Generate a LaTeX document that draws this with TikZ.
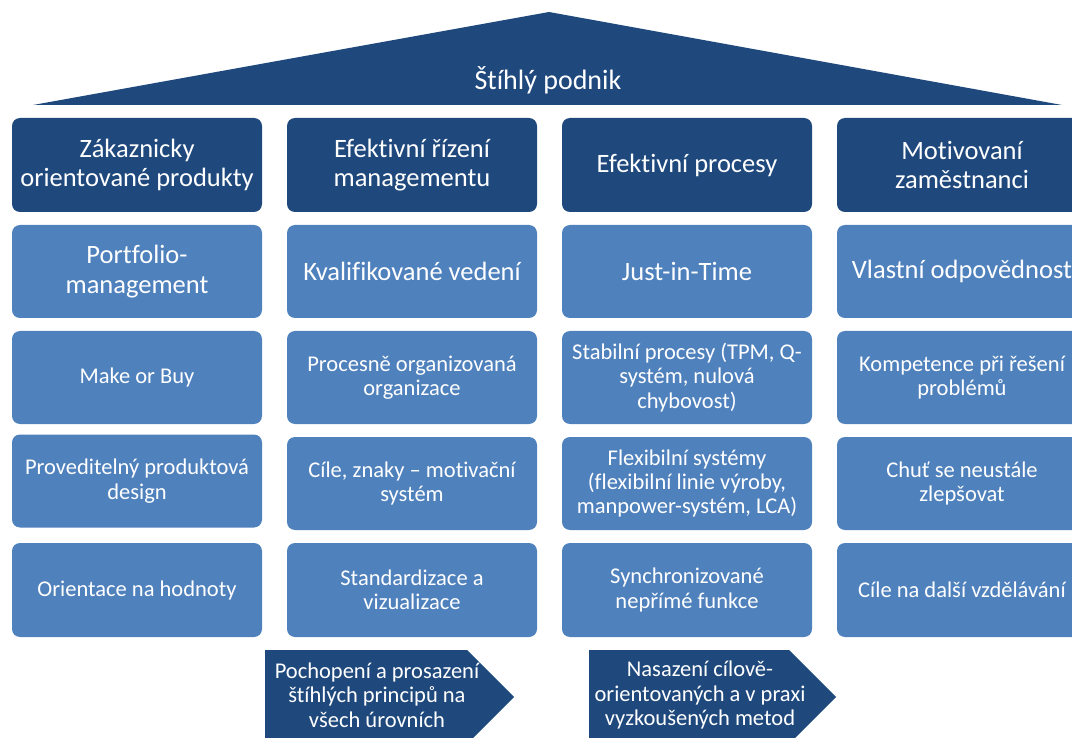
\documentclass[tikz,border=0pt]{standalone}
\usepackage{fontspec}
\setmainfont[RawFeature={-liga;-clig;-dlig;-calt;-hlig}]{Carlito}
\definecolor{darkblue}{RGB}{31,73,125}
\definecolor{lightblue}{RGB}{79,129,189}
\tikzset{
  boxbase/.style={rounded corners=8pt, minimum width=250pt, text=white, align=center, inner sep=0pt},
  hdr/.style={boxbase, fill=darkblue, minimum height=94pt, font=\fontsize{26.5}{29}\selectfont},
  bigbox/.style={boxbase, fill=lightblue, minimum height=93pt, font=\fontsize{26.5}{30}\selectfont},
  smallbox/.style={boxbase, fill=lightblue, minimum height=93pt, font=\fontsize{22.5}{24.5}\selectfont},
  arrowtext/.style={text=white, align=center, inner sep=0pt, font=\fontsize{22.5}{24.5}\selectfont},
  rooftext/.style={text=white, inner sep=0pt, font=\fontsize{28}{30}\selectfont}
}
\begin{document}
\begin{tikzpicture}[x=1pt,y=-1pt]
\clip (0,0) rectangle (1072,738);
\fill[white] (0,0) rectangle (1072,738);
% roof
\fill[darkblue] (33,105) -- (549,12) -- (1062,105) -- cycle;
\node[rooftext] (title) at (548,80) {Štíhlý podnik};
% row 1
\node[hdr] (h1) at (137,165) {Zákaznicky\\orientované produkty};
\node[hdr] (h2) at (412,165) {Efektivní řízení\\managementu};
\node[hdr] (h3) at (687,165) {Efektivní procesy};
\node[hdr] (h4) at (962,165) {Motivovaní\\zaměstnanci};
% row 2
\node[bigbox] (a1) at (137,271.5) {Portfolio-\\management};
\node[bigbox] (a2) at (412,271.5) {Kvalifikované vedení};
\node[bigbox] (a3) at (687,271.5) {Just-in-Time};
\node[bigbox] (a4) at (962,271.5) {Vlastní odpovědnost};
% row 3
\node[smallbox] (b1) at (137,377.5) {Make or Buy};
\node[smallbox] (b2) at (412,377.5) {Procesně organizovaná\\organizace};
\node[smallbox] (b3) at (687,377.5) {Stabilní procesy (TPM, Q-\\systém, nulová\\chybovost)};
\node[smallbox] (b4) at (962,377.5) {Kompetence při řešení\\problémů};
% row 4
\node[smallbox] (c1) at (137,481) {Proveditelný produktová\\design};
\node[smallbox] (c2) at (412,483.5) {Cíle, znaky – motivační\\systém};
\node[smallbox] (c3) at (687,483.5) {Flexibilní systémy\\(flexibilní linie výroby,\\manpower-systém, LCA)};
\node[smallbox] (c4) at (962,483.5) {Chuť se neustále\\zlepšovat};
% row 5
\node[smallbox, minimum height=94pt] (d1) at (137,590) {Orientace na hodnoty};
\node[smallbox, minimum height=94pt] (d2) at (412,590) {Standardizace a\\vizualizace};
\node[smallbox, minimum height=94pt] (d3) at (687,590) {Synchronizované\\nepřímé funkce};
\node[smallbox, minimum height=94pt] (d4) at (962,590) {Cíle na další vzdělávání};
% bottom arrows
\fill[darkblue] (265,650) -- (467,650) -- (514,697) -- (467,744) -- (265,744) -- cycle;
\node[arrowtext] (p1) at (377,695) {Pochopení a prosazení\\štíhlých principů na\\všech úrovních};
\fill[darkblue] (589,650) -- (789,650) -- (836,697) -- (789,744) -- (589,744) -- cycle;
\node[arrowtext] (p2) at (700,695) {Nasazení cílově-\\orientovaných a v praxi\\vyzkoušených metod};
\end{tikzpicture}
\end{document}
